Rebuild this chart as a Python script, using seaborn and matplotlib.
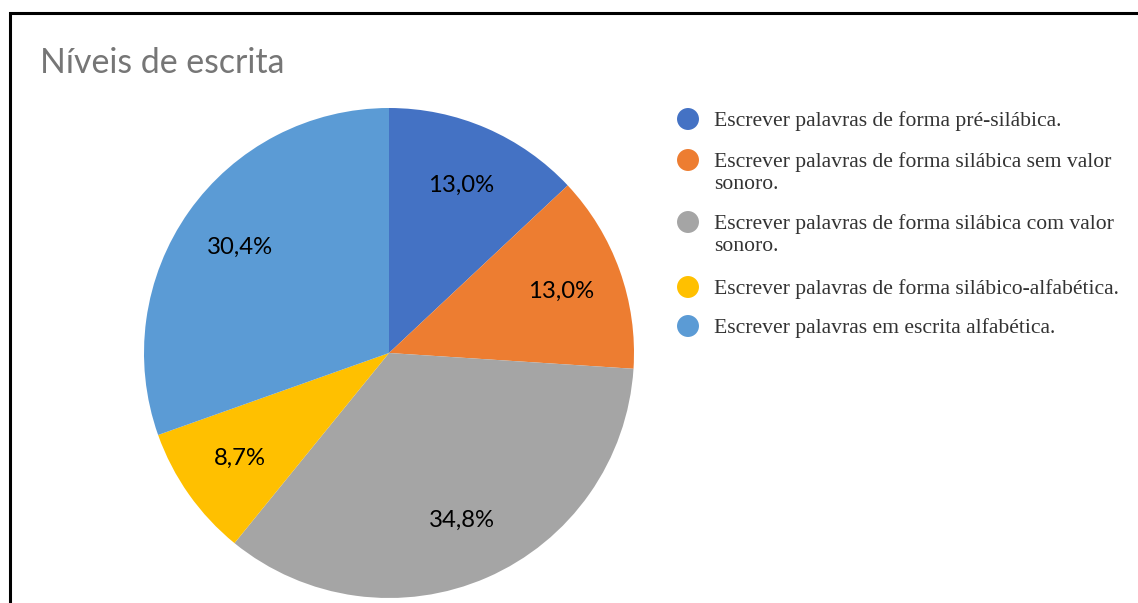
import matplotlib
matplotlib.use("Agg")
import matplotlib.pyplot as plt
import seaborn as sns
from matplotlib.patches import Rectangle

sns.set_theme(style="white")

categories = [
    "Escrever palavras de forma pré-silábica.",
    "Escrever palavras de forma silábica sem valor\nsonoro.",
    "Escrever palavras de forma silábica com valor\nsonoro.",
    "Escrever palavras de forma silábico-alfabética.",
    "Escrever palavras em escrita alfabética.",
]
percentages = [13.0, 13.0, 34.8, 8.7, 30.4]
colors = ["#4472C4", "#ED7D31", "#A5A5A5", "#FFC000", "#5B9BD5"]
title = "Níveis de escrita"

W, H = 1138, 603
fig = plt.figure(figsize=(W / 100, H / 100), dpi=100)
fig.patch.set_facecolor("white")

# outer frame running off the right and bottom edges
fig.add_artist(Rectangle((10 / W, -0.05), 1.2, (H - 13) / H + 0.05,
                         transform=fig.transFigure, fill=False,
                         edgecolor="black", linewidth=2.2))

cx, cy, r = 389, H - 353, 245
ax = fig.add_axes([(cx - r) / W, (cy - r) / H, 2 * r / W, 2 * r / H])

wedges, texts = ax.pie(
    percentages,
    colors=colors,
    startangle=90,
    counterclock=False,
    labels=[f"{p:.1f}%".replace(".", ",") for p in percentages],
    labeldistance=0.745,
    wedgeprops=dict(linewidth=0),
    textprops=dict(fontsize=17.2, family="Lato", color="black"),
)
for t in texts:
    t.set_horizontalalignment("center")
    t.set_verticalalignment("center")
ax.set_xlim(-1, 1)
ax.set_ylim(-1, 1)
ax.set_aspect("equal")
ax.axis("off")

fig.text(40 / W, 1 - 63 / H, title, fontsize=24.4, family="Lato",
         color="#767676", ha="left", va="center")

# legend panel in pixel units (y grows downward)
lax = fig.add_axes([0, 0, 1, 1], facecolor="none")
lax.set_xlim(0, W)
lax.set_ylim(H, 0)
lax.axis("off")

entry_y = [119, 160, 222, 287, 326]
line_gap = 22
lax.scatter([688] * len(colors), entry_y, s=250, c=colors, linewidths=0)
for label, y0 in zip(categories, entry_y):
    for k, line in enumerate(label.split("\n")):
        lax.text(714, y0 + k * line_gap, line, family="Liberation Serif",
                 fontsize=15.6, color="#333333", ha="left",
                 va="center_baseline")

fig.savefig("out.png", dpi=100, facecolor="white")
